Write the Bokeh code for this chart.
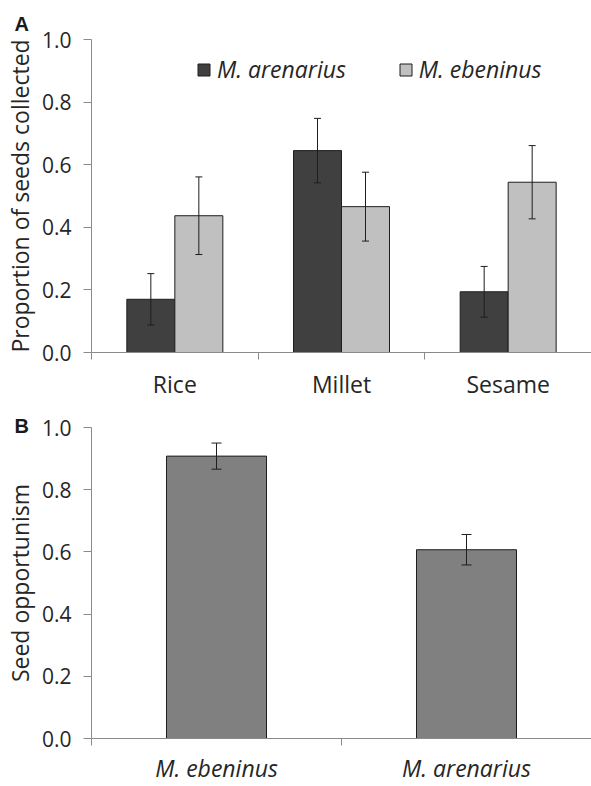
from bokeh.plotting import figure
from bokeh.layouts import column
from bokeh.models import (Range1d, FixedTicker, PrintfTickFormatter, Whisker, ColumnDataSource,
                          Legend, LegendItem, TeeHead)
from bokeh.embed import file_html
from bokeh.resources import INLINE

# ---- data ----
seeds = ["Rice", "Millet", "Sesame"]
arenarius_prop = [0.170, 0.645, 0.194]
arenarius_err = [0.082, 0.103, 0.081]
ebeninus_prop = [0.437, 0.466, 0.544]
ebeninus_err = [0.124, 0.110, 0.117]

species = ["M. ebeninus", "M. arenarius"]
opportunism = [0.908, 0.607]
opportunism_err = [0.042, 0.049]

y_ticks = [0.0, 0.2, 0.4, 0.6, 0.8, 1.0]

FONT = "Open Sans"
AXIS_COL = "#8a8a8a"
TEXT_COL = "#262626"
EDGE = "#1e1e1e"
W = 591


def style_axes(p, n_cat, labels, ylabel, italic_x=False, x_standoff=8, x_size="23px"):
    yax = p.yaxis[0]
    yax.ticker = FixedTicker(ticks=y_ticks)
    yax.formatter = PrintfTickFormatter(format="%.1f")
    yax.minor_tick_line_color = None
    yax.major_tick_out = 8
    yax.major_tick_in = 0
    yax.axis_line_color = AXIS_COL
    yax.major_tick_line_color = AXIS_COL
    yax.major_label_text_font = FONT
    yax.major_label_text_font_size = "21px"
    yax.major_label_text_color = TEXT_COL
    yax.major_label_standoff = 12
    yax.axis_label = ylabel
    yax.axis_label_text_font = FONT
    yax.axis_label_text_font_size = "23px"
    yax.axis_label_text_font_style = "normal"
    yax.axis_label_text_color = TEXT_COL
    yax.axis_label_standoff = 3

    xax = p.xaxis[0]
    centers = [i + 0.5 for i in range(n_cat)]
    xax.ticker = FixedTicker(ticks=centers, minor_ticks=list(range(n_cat + 1)))
    xax.major_label_overrides = {c: lab for c, lab in zip(centers, labels)}
    xax.major_tick_out = 0
    xax.major_tick_in = 0
    xax.minor_tick_out = 7
    xax.minor_tick_in = 0
    xax.minor_tick_line_color = AXIS_COL
    xax.axis_line_color = AXIS_COL
    xax.major_label_text_font = FONT
    xax.major_label_text_font_size = x_size
    xax.major_label_text_color = TEXT_COL
    xax.major_label_standoff = x_standoff
    if italic_x:
        xax.major_label_text_font_style = "italic"

    p.xgrid.visible = False
    p.ygrid.visible = False
    p.outline_line_color = None


def panel_title(p, letter, standoff):
    p.title.text = letter
    p.title.align = "left"
    p.title.offset = -77
    p.title.standoff = standoff
    p.title.text_font = "Liberation Sans"
    p.title.text_font_style = "bold"
    p.title.text_font_size = "20px"
    p.title.text_color = "#1a1a1a"


# ---- panel A ----
p1 = figure(width=W, height=402, x_range=Range1d(0, 3), y_range=Range1d(0, 1),
            output_backend="svg", toolbar_location=None,
            min_border_left=89, min_border_right=0, min_border_top=39, min_border_bottom=50)

bw = 0.288
x_ar = [i + 0.5 - bw / 2 for i in range(len(seeds))]
x_eb = [i + 0.5 + bw / 2 for i in range(len(seeds))]

src_ar = ColumnDataSource(dict(x=x_ar, top=arenarius_prop,
                               upper=[v + e for v, e in zip(arenarius_prop, arenarius_err)],
                               lower=[v - e for v, e in zip(arenarius_prop, arenarius_err)]))
src_eb = ColumnDataSource(dict(x=x_eb, top=ebeninus_prop,
                               upper=[v + e for v, e in zip(ebeninus_prop, ebeninus_err)],
                               lower=[v - e for v, e in zip(ebeninus_prop, ebeninus_err)]))

r_ar = p1.vbar(x="x", top="top", width=bw, source=src_ar, fill_color="#404040",
               line_color=EDGE, line_width=1)
r_eb = p1.vbar(x="x", top="top", width=bw, source=src_eb, fill_color="#c0c0c0",
               line_color=EDGE, line_width=1)

for src in (src_ar, src_eb):
    p1.add_layout(Whisker(source=src, base="x", upper="upper", lower="lower", level="overlay",
                          line_color=EDGE, line_width=1,
                          upper_head=TeeHead(size=7, line_color=EDGE, line_width=1),
                          lower_head=TeeHead(size=7, line_color=EDGE, line_width=1)))

style_axes(p1, 3, seeds, "Proportion of seeds collected")

legend = Legend(items=[LegendItem(label="M. arenarius", renderers=[r_ar]),
                       LegendItem(label="M. ebeninus", renderers=[r_eb])],
                orientation="horizontal", location=(105, 267),
                border_line_alpha=0, background_fill_alpha=0,
                label_text_font=FONT, label_text_font_style="italic",
                label_text_font_size="23px", label_text_color=TEXT_COL,
                glyph_width=15, glyph_height=15, spacing=52, padding=0, margin=0,
                label_standoff=6)
p1.add_layout(legend)
panel_title(p1, "A", 10)

# ---- panel B ----
p2 = figure(width=W, height=384, x_range=Range1d(0, 2), y_range=Range1d(0, 1),
            output_backend="svg", toolbar_location=None,
            min_border_left=89, min_border_right=0, min_border_top=25, min_border_bottom=48)

src_b = ColumnDataSource(dict(x=[i + 0.5 for i in range(len(species))], top=opportunism,
                              upper=[v + e for v, e in zip(opportunism, opportunism_err)],
                              lower=[v - e for v, e in zip(opportunism, opportunism_err)]))
p2.vbar(x="x", top="top", width=0.4, source=src_b, fill_color="#808080",
        line_color=EDGE, line_width=1)
p2.add_layout(Whisker(source=src_b, base="x", upper="upper", lower="lower", level="overlay",
                      line_color=EDGE, line_width=1,
                      upper_head=TeeHead(size=10, line_color=EDGE, line_width=1),
                      lower_head=TeeHead(size=10, line_color=EDGE, line_width=1)))

style_axes(p2, 2, species, "Seed opportunism", italic_x=True, x_standoff=6, x_size="23px")
panel_title(p2, "B", -18)

layout = column(p1, p2, spacing=0)
open("out.html", "w").write(file_html(layout, INLINE))
